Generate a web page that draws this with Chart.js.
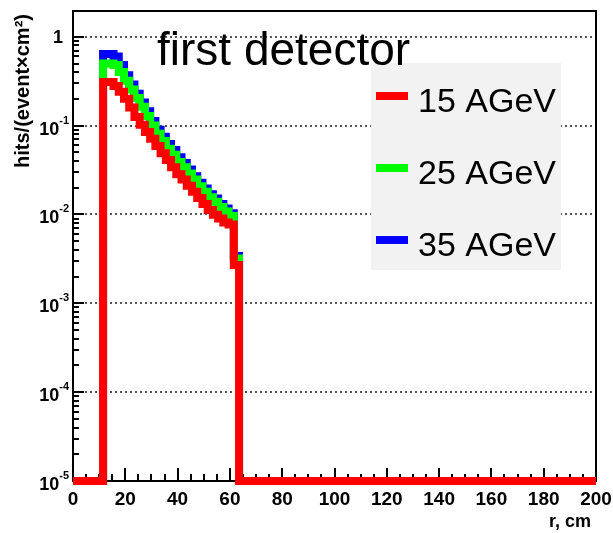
<!DOCTYPE html>
<html><head><meta charset="utf-8">
<script src="https://cdn.jsdelivr.net/npm/chart.js@4.4.1/dist/chart.umd.min.js"></script>
<style>html,body{margin:0;padding:0;background:#fff}canvas{display:block}</style>
</head><body>
<div style="width:613px;height:533px;position:relative"><canvas id="c" width="613" height="533"></canvas></div>
<script>
// ---- data ----
const seriesNames = ['15 AGeV', '25 AGeV', '35 AGeV'];
const seriesColors = ['#ff0000', '#00ff00', '#0000ff'];
const binEdges = [11.5,13.5,15.5,17.5,19.5,21.5,23.5,25.5,27.5,29.5,31.5,33.5,35.5,37.5,39.5,41.5,43.5,45.5,47.5,49.5,51.5,53.5,55.5,57.5,59.5,61.5,63.5];
const hits15 = [0.31,0.31,0.28,0.24,0.20,0.16,0.125,0.102,0.085,0.071,0.059,0.049,0.041,0.034,0.0283,0.0248,0.021,0.018,0.0153,0.0131,0.0112,0.0099,0.009,0.0081,0.0077,0.0027];
const hits25 = [0.50,0.50,0.48,0.40,0.32,0.255,0.205,0.163,0.128,0.100,0.081,0.067,0.055,0.047,0.039,0.034,0.029,0.0248,0.0208,0.018,0.0156,0.0139,0.0121,0.0108,0.0096,0.0032];
const hits35 = [0.64,0.64,0.60,0.48,0.37,0.29,0.228,0.182,0.145,0.113,0.090,0.075,0.062,0.053,0.044,0.038,0.032,0.027,0.0227,0.0196,0.0169,0.0151,0.0131,0.0117,0.0103,0.0034];
const emptyLevel = 1e-5;
const xRange = [0, 200];
const yRange = [1e-5, 1.95];
const xTickLabels = [0,20,40,60,80,100,120,140,160,180,200];
const xMinorStep = 5;
const yDecades = [-5,-4,-3,-2,-1,0];
const titleText = 'first detector';
const xTitle = 'r, cm';
const yTitle = 'hits/(event\u00d7cm\u00b2)';

function histPoints(vals) {
  const pts = [{x: xRange[0], y: emptyLevel}];
  vals.forEach((v, i) => pts.push({x: binEdges[i], y: v}));
  pts.push({x: binEdges[binEdges.length - 1], y: emptyLevel});
  pts.push({x: xRange[1], y: emptyLevel});
  return pts;
}

const FONT = '"Liberation Sans", Arial, Helvetica, sans-serif';

const rootAxes = {
  id: 'rootAxes',
  beforeDatasetsDraw(chart) {
    const {ctx, chartArea: a, scales: {x, y}} = chart;
    ctx.save();
    ctx.strokeStyle = '#555';
    ctx.lineWidth = 2;
    ctx.setLineDash([2, 3]);
    yDecades.forEach(n => {
      const v = Math.pow(10, n);
      if (v <= yRange[0] || v >= yRange[1]) return;
      const py = Math.round(y.getPixelForValue(v));
      ctx.beginPath(); ctx.moveTo(a.left + 12, py); ctx.lineTo(a.right, py); ctx.stroke();
    });
    ctx.setLineDash([]);
    ctx.strokeStyle = '#000';
    ctx.lineWidth = 2;
    ctx.strokeRect(a.left, a.top, a.right - a.left, a.bottom - a.top);
    yDecades.forEach(n => {
      for (let m = 1; m <= 9; m++) {
        const v = m * Math.pow(10, n);
        if (v < yRange[0] || v > yRange[1]) continue;
        const py = Math.round(y.getPixelForValue(v));
        const len = m === 1 ? 11 : 6;
        ctx.beginPath(); ctx.moveTo(a.left, py); ctx.lineTo(a.left + len, py); ctx.stroke();
      }
    });
    for (let v = xRange[0]; v <= xRange[1]; v += xMinorStep) {
      const px = Math.round(x.getPixelForValue(v));
      const len = v % 20 === 0 ? 13 : 7;
      ctx.beginPath(); ctx.moveTo(px, a.bottom); ctx.lineTo(px, a.bottom - len); ctx.stroke();
    }
    ctx.restore();
  },
  afterDraw(chart) {
    const {ctx, chartArea: a, scales: {x, y}} = chart;
    ctx.save();
    ctx.fillStyle = '#000';
    yDecades.forEach(n => {
      const v = Math.pow(10, n);
      const py = y.getPixelForValue(v);
      ctx.textAlign = 'right';
      ctx.textBaseline = 'alphabetic';
      if (n === 0) {
        ctx.font = 'bold 18px ' + FONT;
        ctx.fillText('1', 63, py + 6);
      } else {
        ctx.font = 'bold 11px ' + FONT;
        const e = String(n);
        const ew = ctx.measureText(e).width;
        ctx.fillText(e, 69, py - 2);
        ctx.font = 'bold 18px ' + FONT;
        ctx.fillText('10', 69 - ew, py + 9);
      }
    });
    ctx.font = 'bold 19px ' + FONT;
    ctx.textAlign = 'center';
    xTickLabels.forEach(v => {
      ctx.fillText(String(v), x.getPixelForValue(v), 505);
    });
    ctx.font = 'bold 18px ' + FONT;
    ctx.textAlign = 'right';
    ctx.fillText(xTitle, 591, 527);
    ctx.save();
    ctx.translate(23, 91);
    ctx.rotate(-Math.PI / 2);
    ctx.textAlign = 'center';
    ctx.textBaseline = 'middle';
    ctx.font = 'bold 20px ' + FONT;
    ctx.fillText(yTitle, 0, 0);
    ctx.restore();
    ctx.fillStyle = '#f2f2f2';
    ctx.fillRect(371, 63, 190, 207);
    const rows = [96, 168, 240];
    seriesNames.forEach((name, i) => {
      ctx.strokeStyle = seriesColors[i];
      ctx.lineWidth = 8;
      ctx.beginPath(); ctx.moveTo(376, rows[i]); ctx.lineTo(408, rows[i]); ctx.stroke();
      ctx.fillStyle = '#000';
      ctx.font = '34px ' + FONT;
      ctx.textAlign = 'left';
      ctx.textBaseline = 'alphabetic';
      ctx.fillText(name, 418, rows[i] + 16);
    });
    ctx.font = '46px ' + FONT;
    ctx.textAlign = 'left';
    ctx.fillStyle = '#000';
    ctx.fillText(titleText, 157, 65);
    ctx.restore();
  }
};

const datasets = [hits15, hits25, hits35].map((vals, i) => ({
  label: seriesNames[i],
  data: histPoints(vals),
  borderColor: seriesColors[i],
  backgroundColor: seriesColors[i],
  borderWidth: 8,
  stepped: 'before',
  pointRadius: 0,
  fill: false,
  clip: false,
  borderJoinStyle: 'miter',
  borderCapStyle: 'butt',
  tension: 0
}));

new Chart(document.getElementById('c'), {
  type: 'line',
  data: {datasets},
  options: {
    responsive: false,
    animation: false,
    devicePixelRatio: 1,
    layout: {padding: {left: 73, right: 17, top: 11, bottom: 52}},
    plugins: {legend: {display: false}, tooltip: {enabled: false}, title: {display: false}},
    scales: {
      x: {type: 'linear', min: xRange[0], max: xRange[1], display: false},
      y: {type: 'logarithmic', min: yRange[0], max: yRange[1], display: false}
    }
  },
  plugins: [rootAxes]
});
</script>
</body></html>
